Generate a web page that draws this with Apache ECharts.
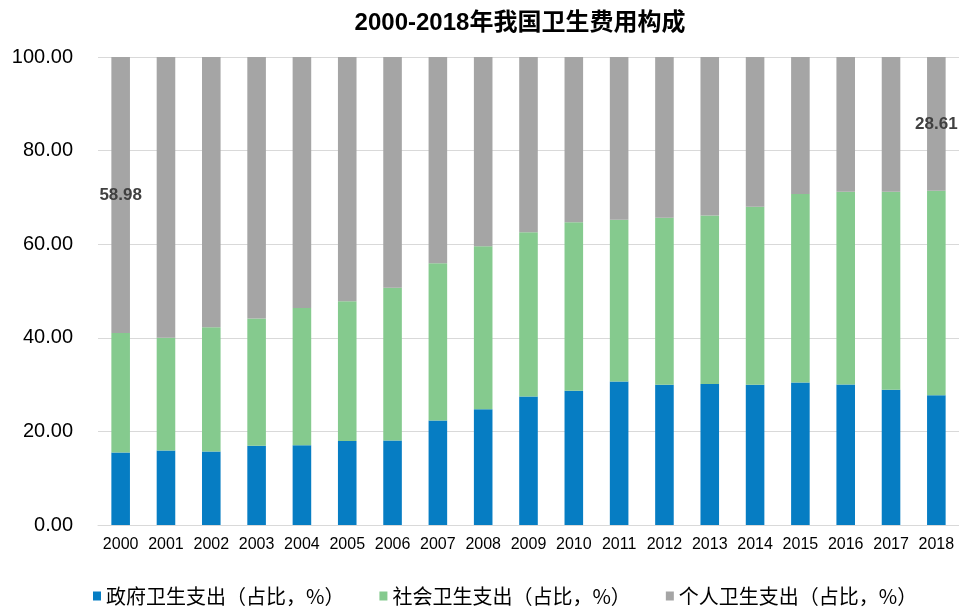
<!DOCTYPE html>
<html>
<head>
<meta charset="utf-8">
<script src="https://cdn.jsdelivr.net/npm/echarts@6/dist/echarts.min.js"></script>
<style>
  html, body { margin: 0; padding: 0; background: #fff; }
  #chart { width: 959px; height: 608px; }
</style>
</head>
<body>
<div id="chart"></div>
<script>
// 年份
const years = ['2000', '2001', '2002', '2003', '2004', '2005', '2006', '2007', '2008', '2009',
  '2010', '2011', '2012', '2013', '2014', '2015', '2016', '2017', '2018']
// 政府卫生支出占比
const govShare = [15.47, 15.93, 15.69, 16.96, 17.04, 17.93, 18.07, 22.31, 24.73, 27.46,
  28.69, 30.66, 29.99, 30.14, 29.96, 30.45, 30.01, 28.91, 27.74]
// 社会卫生支出占比
const socialShare = [25.55, 24.10, 26.59, 27.16, 29.32, 29.87, 32.62, 33.64, 34.85, 35.08,
  36.02, 34.57, 35.67, 35.98, 38.05, 40.29, 41.21, 42.32, 43.66]
// 个人卫生支出占比
const personalShare = [58.98, 59.97, 57.72, 55.87, 53.64, 52.21, 49.31, 44.05, 40.42, 37.46,
  35.29, 34.77, 34.34, 33.88, 31.99, 29.27, 28.78, 28.77, 28.61]
// 需要显示数值的年份
const labelYears = ['2000', '2018']

const seriesNames = ['政府卫生支出（占比，%）', '社会卫生支出（占比，%）', '个人卫生支出（占比，%）']
const colors = ['#067DC3', '#85CA8E', '#A5A5A5']
const latin = 'Liberation Sans, Arial, Noto Sans CJK SC'

const myChart = echarts.init(document.getElementById('chart'))

const makeSeries = (name, values, color) => ({
  name: name,
  type: 'bar',
  stack: 'total',
  barWidth: '41%',
  itemStyle: { color: color },
  data: values.map((v, i) => {
    // 只在首尾年份标数值
    if (name === seriesNames[2] && labelYears.includes(years[i])) {
      return {
        value: v,
        label: {
          show: true,
          position: 'inside',
          formatter: (p) => p.value.toFixed(2),
          color: '#404040',
          fontWeight: 'bold',
          fontSize: 17,
          fontFamily: latin,
        },
      }
    }
    return v
  }),
})

const options = {
  animation: false,
  title: {
    text: '2000-2018年我国卫生费用构成',
    left: 515,
    top: 6,
    textAlign: 'center',
    textStyle: {
      fontSize: 24,
      fontWeight: 'bold',
      color: '#000',
      fontFamily: latin,
    },
  },
  legend: {
    left: 88,
    top: 581,
    icon: 'rect',
    itemWidth: 8,
    itemHeight: 9,
    itemGap: 35,
    textStyle: {
      fontSize: 20,
      color: '#000',
      fontFamily: 'Noto Sans CJK SC',
    },
    data: seriesNames,
  },
  grid: {
    left: 98,
    top: 57,
    width: 862,
    height: 468,
  },
  xAxis: {
    type: 'category',
    data: years,
    axisLine: { lineStyle: { color: '#D9D9D9', width: 1 } },
    axisTick: { show: false },
    axisLabel: {
      color: '#000',
      fontSize: 16,
      fontFamily: latin,
      margin: 12,
      interval: 0,
    },
  },
  yAxis: {
    type: 'value',
    min: 0,
    max: 100,
    interval: 20,
    axisLine: { show: false },
    axisTick: { show: false },
    splitLine: { lineStyle: { color: '#D9D9D9', width: 1 } },
    axisLabel: {
      color: '#000',
      fontSize: 20,
      fontFamily: latin,
      margin: 25,
      formatter: (v) => v.toFixed(2),
    },
  },
  series: [
    makeSeries(seriesNames[0], govShare, colors[0]),
    makeSeries(seriesNames[1], socialShare, colors[1]),
    makeSeries(seriesNames[2], personalShare, colors[2]),
  ],
}

myChart.setOption(options)
</script>
</body>
</html>
